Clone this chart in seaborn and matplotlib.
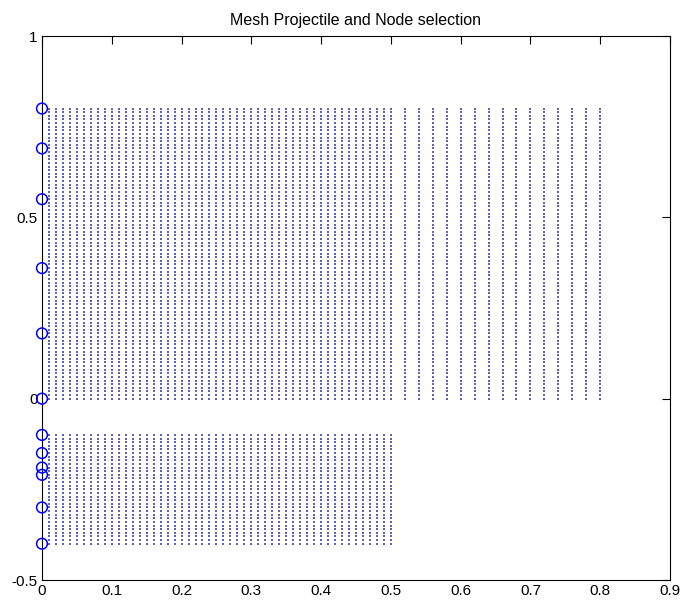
import numpy as np
import pandas as pd
import matplotlib
matplotlib.use("Agg")
import matplotlib.pyplot as plt
import seaborn as sns

# Mesh of the projectile: column x positions and row y positions of each block
upper_fine_x = np.round(np.arange(0.01, 0.5001, 0.01), 3)
upper_coarse_x = np.round(np.arange(0.52, 0.8001, 0.02), 3)
upper_y = np.round(np.arange(0.0, 0.8001, 0.01), 3)
lower_x = np.round(np.arange(0.01, 0.5001, 0.01), 3)
lower_y = np.round(np.arange(-0.4, -0.0999, 0.01), 3)

# Selected boundary nodes on x = 0
node_x = [0.0] * 12
node_y = [0.8, 0.69, 0.55, 0.36, 0.18, 0.0, -0.1, -0.15, -0.19, -0.21, -0.3, -0.4]

# Axis limits and tick labels
x_ticks = [0, 0.1, 0.2, 0.3, 0.4, 0.5, 0.6, 0.7, 0.8, 0.9]
y_ticks = [-0.5, 0, 0.5, 1]
title = "Mesh Projectile and Node selection"


def block(xs, ys):
    gx, gy = np.meshgrid(xs, ys)
    return pd.DataFrame({"x": gx.ravel(), "y": gy.ravel()})


mesh = pd.concat([
    block(np.concatenate([upper_fine_x, upper_coarse_x]), upper_y),
    block(lower_x, lower_y),
], ignore_index=True)
nodes = pd.DataFrame({"x": node_x, "y": node_y})

sns.set_theme(style="white")
plt.rcParams["font.family"] = ["Liberation Sans", "DejaVu Sans"]

fig = plt.figure(figsize=(6.85, 6.05), dpi=100)
ax = fig.add_axes([42 / 685, 1 - 580 / 605, (670 - 42) / 685, (580 - 36) / 605])

sns.scatterplot(data=mesh, x="x", y="y", ax=ax, marker="s", s=1.1,
                color="#2c2ca0", alpha=0.75, linewidth=0, legend=False,
                zorder=2)
sns.scatterplot(data=nodes, x="x", y="y", ax=ax, marker="o", s=60,
                facecolor="none", edgecolor="#0000ff", linewidth=1.1,
                legend=False, zorder=3, clip_on=False)

ax.set_xlim(0, 0.9)
ax.set_ylim(-0.5, 1)
ax.set_xticks(x_ticks)
ax.set_xticklabels([f"{t:g}" for t in x_ticks])
ax.set_yticks(y_ticks)
ax.set_yticklabels([f"{t:g}" for t in y_ticks])
ax.set_xlabel("")
ax.set_ylabel("")
ax.tick_params(direction="in", length=6, width=0.8, color="black",
               top=True, right=True, labelsize=11, pad=3,
               labelcolor="black")
for sp in ax.spines.values():
    sp.set_color("black")
    sp.set_linewidth(0.8)
ax.set_title(title, fontsize=11.5, pad=8, color="black")

fig.savefig("out.png", dpi=100, facecolor="white")
